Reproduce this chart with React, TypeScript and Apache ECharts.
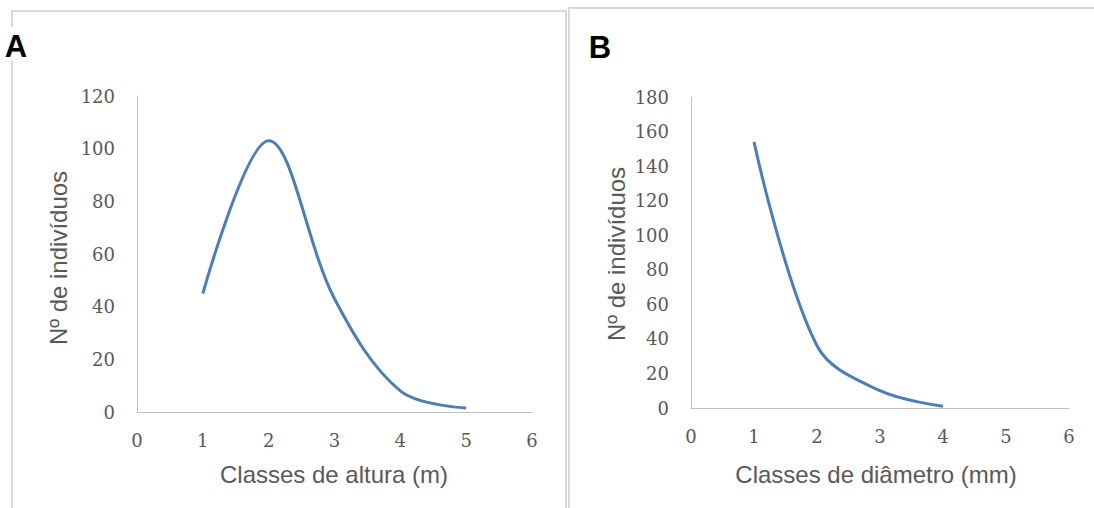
import React, { useEffect, useRef } from "react";
import * as echarts from "echarts";

const heightClasses = [1, 2, 3, 4, 5];
const heightCounts = [45, 103, 43, 8, 1.5];
const diameterClasses = [1, 2, 3, 4];
const diameterCounts = [154, 36, 10, 1];
const xTicks = [0, 1, 2, 3, 4, 5, 6];
const yTicksA = [0, 20, 40, 60, 80, 100, 120];
const yTicksB = [0, 20, 40, 60, 80, 100, 120, 140, 160, 180];

const panelA = { label: "A", xTitle: "Classes de altura (m)", yTitle: "Nº de indivíduos" };
const panelB = { label: "B", xTitle: "Classes de diâmetro (mm)", yTitle: "Nº de indivíduos" };

const LINE = "#4A7EBB";
const AXIS = "#BFBFBF";
const TXT = "#595959";
const BORDER = "#D9D9D9";

export default function App() {
  const ref = useRef<HTMLDivElement>(null);
  useEffect(() => {
    document.body.style.margin = "0";
    if (!ref.current) return;
    const chart = echarts.init(ref.current, undefined, { renderer: "svg" });
    const tickLabel = { color: TXT, fontFamily: "DejaVu Serif", fontSize: 18 };
    const xAxisBase = (gridIndex: number) => ({
      type: "value" as const,
      gridIndex,
      min: xTicks[0],
      max: xTicks[xTicks.length - 1],
      interval: 1,
      axisLine: { show: true, lineStyle: { color: AXIS, width: 1 } },
      axisTick: { show: false },
      splitLine: { show: false },
      axisLabel: { ...tickLabel, margin: 19 },
    });
    const yAxisBase = (gridIndex: number, ticks: number[]) => ({
      type: "value" as const,
      gridIndex,
      min: ticks[0],
      max: ticks[ticks.length - 1],
      interval: ticks[1] - ticks[0],
      axisLine: { show: true, lineStyle: { color: AXIS, width: 1 } },
      axisTick: { show: false },
      splitLine: { show: false },
      axisLabel: { ...tickLabel, margin: 22 },
    });
    const titleStyle = { fill: TXT, fontFamily: "Liberation Sans", fontSize: 24 };
    chart.setOption({
      animation: false,
      backgroundColor: "#ffffff",
      grid: [
        { left: 137, top: 96, width: 395, height: 316 },
        { left: 691, top: 97, width: 378, height: 311 },
      ],
      xAxis: [xAxisBase(0), xAxisBase(1)],
      yAxis: [yAxisBase(0, yTicksA), yAxisBase(1, yTicksB)],
      series: [
        {
          type: "line",
          xAxisIndex: 0,
          yAxisIndex: 0,
          data: heightClasses.map((x, i) => [x, heightCounts[i]]),
          smooth: 0.35,
          showSymbol: false,
          lineStyle: { color: LINE, width: 3 },
        },
        {
          type: "line",
          xAxisIndex: 1,
          yAxisIndex: 1,
          data: diameterClasses.map((x, i) => [x, diameterCounts[i]]),
          smooth: 0.35,
          showSymbol: false,
          lineStyle: { color: LINE, width: 3 },
        },
      ],
      graphic: [
        { type: "rect", z: -1, shape: { x: 12, y: 11, width: 554, height: 520 }, style: { fill: "none", stroke: BORDER, lineWidth: 2 } },
        { type: "rect", z: -1, shape: { x: 569, y: 8, width: 540, height: 520 }, style: { fill: "none", stroke: BORDER, lineWidth: 2 } },
        { type: "rect", z: 0, shape: { x: 3, y: 27, width: 28, height: 34 }, style: { fill: "#ffffff" } },
        { type: "text", z: 1, x: 16, y: 46, style: { text: panelA.label, fill: "#000", fontFamily: "Liberation Sans", fontWeight: "bold", fontSize: 31, align: "center", verticalAlign: "middle" } },
        { type: "text", z: 1, x: 600, y: 47, style: { text: panelB.label, fill: "#000", fontFamily: "Liberation Sans", fontWeight: "bold", fontSize: 31, align: "center", verticalAlign: "middle" } },
        { type: "text", x: 334, y: 474, style: { ...titleStyle, text: panelA.xTitle, align: "center", verticalAlign: "middle" } },
        { type: "text", x: 876, y: 474, style: { ...titleStyle, text: panelB.xTitle, align: "center", verticalAlign: "middle" } },
        { type: "text", x: 58, y: 258, rotation: Math.PI / 2, style: { ...titleStyle, text: panelA.yTitle, align: "center", verticalAlign: "middle" } },
        { type: "text", x: 616, y: 254, rotation: Math.PI / 2, style: { ...titleStyle, text: panelB.yTitle, align: "center", verticalAlign: "middle" } },
      ],
    });
    return () => chart.dispose();
  }, []);
  return <div ref={ref} style={{ width: 1094, height: 508 }} />;
}
